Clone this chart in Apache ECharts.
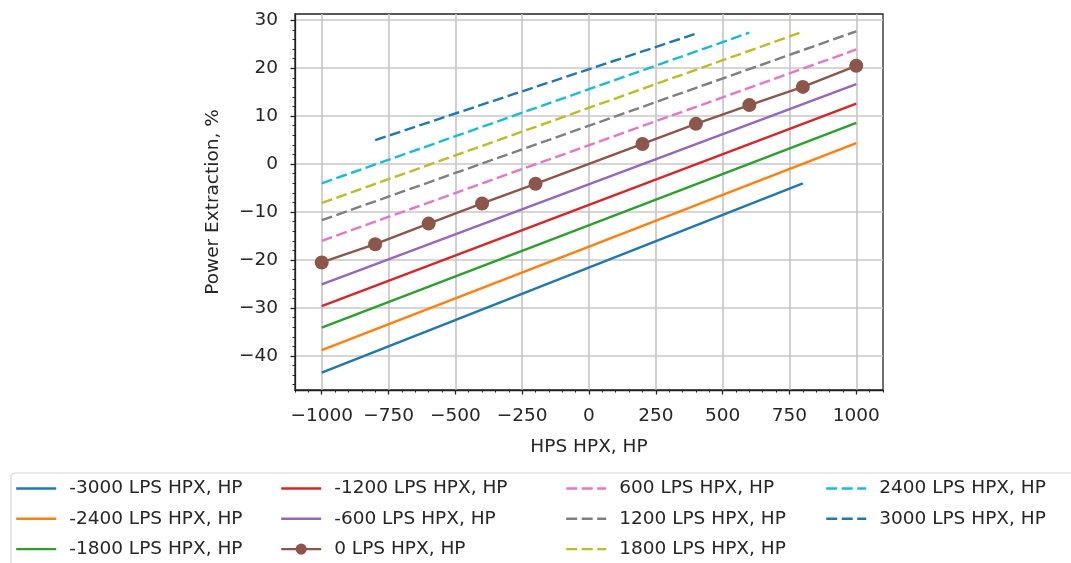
<!DOCTYPE html>
<html>
<head>
<meta charset="utf-8">
<script src="https://cdn.jsdelivr.net/npm/echarts@6/dist/echarts.min.js"></script>
<style>
  html, body { margin: 0; padding: 0; background: #fff; }
  #chart { width: 1071px; height: 563px; }
</style>
</head>
<body>
<div id="chart"></div>
<script>
// LPS HPX levels drawn as plain straight lines (0 LPS has its own marked series below)
const lineLevels = [-3000, -2400, -1800, -1200, -600, 600, 1200, 1800, 2400, 3000];
const lineHpsStart = [-1000, -1000, -1000, -1000, -1000, -1000, -1000, -1000, -1000, -800];
const lineHpsEnd = [800, 1000, 1000, 1000, 1000, 1000, 1000, 800, 600, 400];
const linePeStart = [-43.5, -38.8, -34.1, -29.6, -25.1, -16.0, -11.7, -8.1, -4.0, 5.0];
const linePeEnd = [-4.0, 4.4, 8.6, 12.6, 16.7, 23.9, 27.7, 27.6, 27.4, 27.2];

// 0 LPS HPX, HP points (drawn with markers)
const zeroHps = [-1000, -800, -600, -400, -200, 200, 400, 600, 800, 1000];
const zeroPe = [-20.5, -16.7, -12.4, -8.2, -4.1, 4.2, 8.4, 12.3, 16.1, 20.5];

// Axis ticks
const xTicks = [-1000, -750, -500, -250, 0, 250, 500, 750, 1000];
const yTicks = [-40, -30, -20, -10, 0, 10, 20, 30];
const xMinorStep = 50;
const yMinorStep = 2;

const xRange = [-1100, 1100];
const yRange = [-47.1, 31.3];

const levelColors = {
  '-3000': '#1f77b4', '-2400': '#ff7f0e', '-1800': '#2ca02c', '-1200': '#d62728',
  '-600': '#9467bd', '0': '#8c564b', '600': '#e377c2', '1200': '#7f7f7f',
  '1800': '#bcbd22', '2400': '#17becf', '3000': '#1f77b4'
};

const FONT = 'DejaVu Sans';
const TEXT = '#262626';
const AXIS = '#222';
const LINE_W = 2.4;
const nameOf = lvl => lvl + ' LPS HPX, HP';
const minusFmt = v => String(v).replace('-', '\u2212');

function minorValues(range, step) {
  const out = [];
  const start = Math.ceil(range[0] / step) * step;
  for (let v = start; v <= range[1] + 1e-9; v += step) out.push(Math.round(v * 1000) / 1000);
  return out;
}

// Build series in legend order
const series = [];
lineLevels.forEach((lvl, i) => {
  if (lvl === 600) {
    series.push({
      name: nameOf(0), type: 'line', xAxisIndex: 0, yAxisIndex: 0,
      data: zeroHps.map((x, j) => [x, zeroPe[j]]),
      symbol: 'circle', symbolSize: 14, showSymbol: true,
      lineStyle: { color: levelColors['0'], width: LINE_W },
      itemStyle: { color: levelColors['0'] },
      z: 3
    });
  }
  series.push({
    name: nameOf(lvl), type: 'line', xAxisIndex: 0, yAxisIndex: 0,
    data: [[lineHpsStart[i], linePeStart[i]], [lineHpsEnd[i], linePeEnd[i]]],
    symbol: 'none',
    lineStyle: { color: levelColors[String(lvl)], width: LINE_W, type: lvl > 0 ? [11, 4.5] : 'solid' },
    // no point markers on these lines, so keep the legend free of a dot as well
    itemStyle: { color: levelColors[String(lvl)], opacity: 0 },
    z: 2
  });
});

const legendCols = [
  [nameOf(-3000), nameOf(-2400), nameOf(-1800)],
  [nameOf(-1200), nameOf(-600), nameOf(0)],
  [nameOf(600), nameOf(1200), nameOf(1800)],
  [nameOf(2400), nameOf(3000)]
];
const legendLeft = [15, 280, 565, 825];

const legend = legendCols.map((names, c) => ({
  data: names,
  orient: 'vertical',
  left: legendLeft[c],
  top: 479,
  padding: 0,
  itemWidth: 40,
  itemHeight: 14,
  itemGap: 11.3,
  selectedMode: false,
  lineStyle: { width: LINE_W, type: 'inherit' },
  textStyle: { fontFamily: FONT, fontSize: 18.5, color: TEXT, lineHeight: 18, padding: [0, 0, 0, 8] }
}));

const chart = echarts.init(document.getElementById('chart'), null, { renderer: 'canvas' });
chart.setOption({
  backgroundColor: '#fff',
  animation: false,
  grid: {
    left: 295, right: 188, top: 14, bottom: 173,
    show: true, borderColor: AXIS, borderWidth: 1.3, backgroundColor: 'transparent'
  },
  xAxis: [
    {
      type: 'value', min: xRange[0], max: xRange[1],
      name: 'HPS HPX, HP', nameLocation: 'middle', nameGap: 48,
      nameTextStyle: { fontFamily: FONT, fontSize: 18.5, color: TEXT },
      axisLine: { show: true, onZero: false, lineStyle: { color: AXIS, width: 1.3 } },
      axisTick: { show: true, inside: false, length: 4.5, customValues: xTicks, lineStyle: { color: AXIS, width: 1.3 } },
      axisLabel: { customValues: xTicks, formatter: minusFmt, margin: 17, fontFamily: FONT, fontSize: 18.5, color: TEXT },
      splitLine: { show: true, lineStyle: { color: '#c8c8c8', width: 1.7 } }
    },
    {
      type: 'value', min: xRange[0], max: xRange[1], position: 'bottom',
      axisLine: { show: false, onZero: false },
      axisTick: { show: true, inside: false, length: 2.5, customValues: minorValues(xRange, xMinorStep), lineStyle: { color: AXIS, width: 1 } },
      axisLabel: { show: false },
      splitLine: { show: false }
    }
  ],
  yAxis: [
    {
      type: 'value', min: yRange[0], max: yRange[1],
      name: 'Power Extraction, %', nameLocation: 'middle', nameGap: 72, nameRotate: 90,
      nameTextStyle: { fontFamily: FONT, fontSize: 18.5, color: TEXT },
      axisLine: { show: true, onZero: false, lineStyle: { color: AXIS, width: 1.3 } },
      axisTick: { show: true, inside: false, length: 4.5, customValues: yTicks, lineStyle: { color: AXIS, width: 1.3 } },
      axisLabel: { customValues: yTicks, formatter: minusFmt, margin: 17, fontFamily: FONT, fontSize: 18.5, color: TEXT },
      splitLine: { show: true, lineStyle: { color: '#c8c8c8', width: 1.7 } }
    },
    {
      type: 'value', min: yRange[0], max: yRange[1], position: 'left',
      axisLine: { show: false, onZero: false },
      axisTick: { show: true, inside: false, length: 2.5, customValues: minorValues(yRange, yMinorStep), lineStyle: { color: AXIS, width: 1 } },
      axisLabel: { show: false },
      splitLine: { show: false }
    }
  ],
  legend: legend,
  graphic: [{
    type: 'rect', left: 8.5, top: 470.5, z: 0,
    shape: { width: 1100, height: 140, r: 4 },
    style: { fill: 'none', stroke: '#d6d6d6', lineWidth: 1.2 }
  }],
  series: series
});
</script>
</body>
</html>
